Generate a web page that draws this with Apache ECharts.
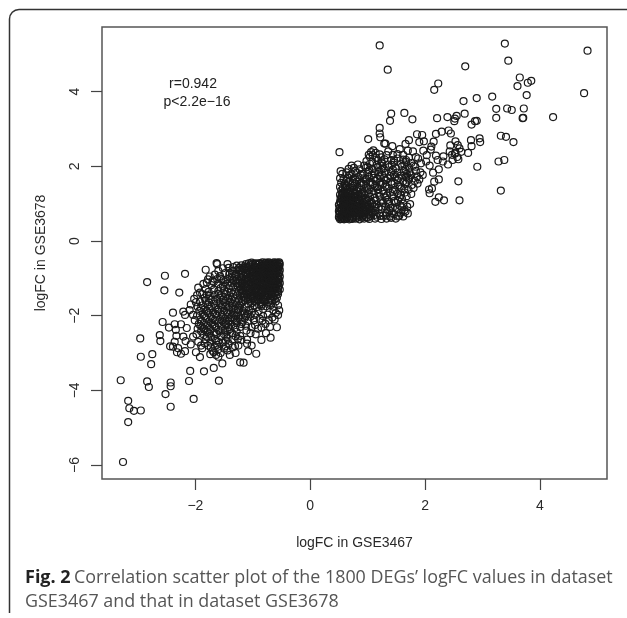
<!DOCTYPE html>
<html><head><meta charset="utf-8">
<style>html,body{margin:0;padding:0;background:#fff}#c{width:627px;height:618px}</style>
<script src="https://cdn.jsdelivr.net/npm/echarts@6/dist/echarts.min.js"></script>
</head><body><div id="c"></div>
<script>
const xTicks=[-2,0,2,4];
const yTicks=[-6,-4,-2,0,2,4];
const xTitle='logFC in GSE3467';
const yTitle='logFC in GSE3678';
const upSparse=[[1.21,5.24],[3.39,5.29],[4.83,5.10],[3.45,4.83],[1.35,4.59],[2.70,4.68],[3.65,4.38],[3.79,4.24],[3.85,4.29],[3.61,4.15],[2.23,4.22],[2.16,4.05],[4.77,3.96],[3.77,3.91],[3.17,3.87],[2.90,3.83],[2.67,3.75],[3.24,3.54],[3.43,3.55],[3.51,3.51],[3.72,3.55],[1.41,3.41],[1.64,3.43],[1.39,3.22],[1.78,3.26],[2.21,3.29],[2.39,3.32],[2.55,3.35],[2.52,3.28],[2.51,3.21],[2.69,3.41],[2.90,3.22],[2.87,3.21],[2.81,3.12],[3.24,3.30],[3.71,3.30],[3.70,3.29],[4.23,3.32],[1.21,3.03],[1.21,2.88],[1.22,2.78],[1.01,2.73],[1.86,2.86],[1.95,2.84],[2.19,2.87],[2.29,2.93],[2.41,2.96],[2.45,2.88],[1.29,2.61],[1.31,2.61],[1.72,2.70],[1.66,2.60],[1.90,2.65],[1.98,2.67],[2.15,2.66],[2.11,2.53],[2.10,2.45],[2.80,2.70],[2.95,2.75],[2.96,2.65],[2.81,2.54],[2.53,2.67],[2.57,2.57],[2.60,2.48],[2.44,2.56],[3.32,2.82],[3.41,2.79],[3.54,2.65],[0.51,2.38],[1.10,2.43],[1.06,2.38],[1.43,2.54],[1.56,2.46],[1.70,2.42],[1.79,2.40],[1.97,2.42],[2.75,2.36],[2.63,2.39],[2.53,2.37],[2.47,2.31],[2.32,2.27],[2.19,2.29],[2.22,2.17],[2.31,2.13],[2.40,2.05],[2.48,2.17],[2.58,2.19],[3.28,2.13],[3.38,2.17],[2.91,1.99],[2.58,1.60],[3.32,1.35],[2.60,1.09],[2.33,1.09],[2.18,1.05],[2.24,1.17],[2.08,1.28],[2.07,1.38],[2.12,1.41],[2.16,1.59],[2.24,1.65],[2.14,1.83],[2.24,1.92],[2.08,2.02],[2.02,2.13],[2.03,2.30],[1.88,2.21],[1.93,2.08],[1.83,1.99],[2.52,2.34],[2.56,2.25],[2.43,2.40]];
const upDense=[
[.52,.58],[.55,.59],[.59,.58],[.63,.6],[.68,.58],[.73,.59],[.79,.6],[.86,.58],[.94,.6],[1.03,.59],[1.13,.6],[1.24,.59],[1.33,.6],[1.41,.62],[1.49,.6],
[.5,.64],[.54,.66],[.57,.63],[.61,.67],[.65,.64],[.7,.66],[.75,.63],[.8,.67],[.85,.65],[.91,.66],[.98,.64],[1.06,.67],[1.16,.65],[1.27,.68],[1.39,.66],[1.55,.68],[1.62,.66],
[.51,.72],[.55,.74],[.59,.71],[.63,.75],[.67,.72],[.72,.74],[.77,.71],[.82,.75],[.88,.72],[.94,.74],[1.01,.71],[1.09,.76],[1.2,.73],[1.33,.75],[1.46,.72],[1.58,.76],[1.7,.74],
[.5,.8],[.54,.82],[.58,.79],[.62,.83],[.66,.8],[.71,.82],[.76,.79],[.81,.83],[.86,.8],[.92,.83],[.98,.8],[1.05,.84],[1.13,.81],[1.24,.85],[1.38,.82],[1.51,.86],[1.64,.83],
[.51,.88],[.55,.9],[.6,.87],[.64,.91],[.69,.88],[.74,.9],[.79,.87],[.84,.91],[.9,.88],[.96,.91],[1.03,.88],[1.11,.92],[1.19,.89],[1.31,.93],[1.44,.9],[1.57,.94],[1.69,.92],
[.5,.97],[.53,.99],[.57,.96],[.62,1],[.67,.97],[.72,.99],[.77,.96],[.83,1],[.88,.97],[.94,1],[1.01,.97],[1.08,1.01],[1.16,.98],[1.27,1.02],[1.37,.99],[1.49,1.03],[1.62,1],[1.74,.99],
[.52,1.05],[.56,1.08],[.6,1.04],[.65,1.08],[.7,1.05],[.75,1.07],[.8,1.04],[.86,1.08],[.92,1.05],[.99,1.08],[1.06,1.05],[1.14,1.09],[1.23,1.06],[1.34,1.1],[1.46,1.07],[1.6,1.12],
[.53,1.14],[.58,1.17],[.63,1.13],[.68,1.17],[.73,1.14],[.78,1.16],[.84,1.13],[.9,1.17],[.97,1.14],[1.04,1.18],[1.12,1.15],[1.21,1.19],[1.31,1.16],[1.43,1.2],[1.56,1.17],[1.68,1.2],
[.52,1.24],[.56,1.27],[.61,1.23],[.66,1.27],[.71,1.24],[.77,1.26],[.83,1.23],[.89,1.27],[.95,1.24],[1.02,1.28],[1.1,1.25],[1.19,1.29],[1.28,1.26],[1.39,1.3],[1.52,1.27],[1.65,1.3],[1.76,1.26],
[.54,1.35],[.59,1.33],[.64,1.37],[.7,1.34],[.76,1.38],[.82,1.34],[.88,1.37],[.95,1.34],[1.02,1.38],[1.1,1.35],[1.18,1.39],[1.27,1.36],[1.36,1.4],[1.47,1.37],[1.59,1.41],[1.71,1.38],[1.8,1.42],
[.52,1.45],[.57,1.43],[.63,1.47],[.69,1.44],[.75,1.48],[.82,1.45],[.89,1.49],[.97,1.46],[1.05,1.5],[1.13,1.47],[1.22,1.51],[1.31,1.48],[1.42,1.52],[1.53,1.49],[1.66,1.53],[1.77,1.5],[1.87,1.54],
[.54,1.56],[.6,1.54],[.67,1.58],[.74,1.55],[.81,1.59],[.89,1.56],[.97,1.6],[1.05,1.57],[1.14,1.61],[1.22,1.58],[1.32,1.62],[1.41,1.59],[1.52,1.63],[1.62,1.6],[1.72,1.64],[1.82,1.61],[1.9,1.65],
[.52,1.68],[.58,1.66],[.66,1.7],[.75,1.67],[.84,1.71],[.93,1.68],[1.02,1.72],[1.11,1.69],[1.21,1.73],[1.29,1.7],[1.39,1.74],[1.48,1.71],[1.58,1.75],[1.67,1.72],[1.76,1.76],[1.86,1.73],[1.96,1.77],
[.56,1.8],[.63,1.84],[.72,1.79],[.81,1.83],[.91,1.8],[1.01,1.85],[1.11,1.81],[1.2,1.85],[1.3,1.82],[1.41,1.86],[1.52,1.83],[1.63,1.87],[1.73,1.84],[1.84,1.88],[1.92,1.84],
[.53,1.87],[.67,1.93],[.76,1.96],[.86,1.92],[.97,1.97],[1.08,1.93],[1.18,1.98],[1.28,1.94],[1.37,1.98],[1.49,1.95],[1.6,2],[1.72,1.96],[1.8,2.02],
[.72,2.02],[.83,2.05],[.94,2.02],[1.04,2.07],[1.16,2.04],[1.25,2.09],[1.36,2.05],[1.46,2.1],[1.58,2.07],[1.67,2.12],[1.76,2.09],
[.98,2.14],[1.08,2.12],[1.18,2.16],[1.24,2.24],[1.29,2.19],[1.41,2.17],[1.52,2.21],[1.62,2.18],[1.72,2.23],[1.84,2.25],
[1.04,2.25],[1.09,2.3],[1.15,2.23],[1.21,2.32],[1.33,2.3],[1.44,2.31],[1.52,2.33],[1.62,2.31],[1.02,2.31],[1.14,2.36],[1.36,2.4]
];
const upExtra=[
[.53,.61],[.56,.69],[.6,.6],[.62,.7],[.66,.76],[.7,.61],[.74,.68],[.78,.77],[.82,.62],[.84,.7],[.87,.77],[.9,.62],[.93,.69],[.96,.78],[1,.62],[1.03,.74],[1.06,.8],[.52,.77],[.55,.85],[.58,.93],[.6,.82],[.64,.86],[.67,.94],[.71,.85],[.73,.94],[.77,.84],[.81,.92],[.84,.85],[.88,.94],[.91,.86],[.95,.95],[.98,.86],[1.01,.93],[1.05,.92],[.54,1.02],[.59,1.01],[.63,1.03],[.68,1.02],[.73,1.03],[.78,1.02],[.81,1.1],[.85,1.03],[.9,1.12],[.95,1.1],[.55,1.12],[.6,1.1],[.65,1.13],[.7,1.11],[.75,1.12],[.55,1.2],[.6,1.2],[.65,1.21],[.7,1.19],[.75,1.2],[.8,1.2],[.86,1.21],[.57,1.3],[.62,1.3],[.68,1.31],[.74,1.31],
[.61,1.41],[.73,1.42],[.86,1.42],[1,1.43],[1.16,1.44],[1.33,1.45],[1.56,1.46],[.61,1.5],[.78,1.52],[.93,1.53],[1.09,1.53],[1.27,1.54],[1.47,1.55],[1.68,1.58],[.63,1.62],[.79,1.65],[.97,1.66],[1.17,1.67],[1.35,1.68],[1.54,1.69],[1.72,1.7],[.68,1.76],[.88,1.77],[1.07,1.77],[1.25,1.78],[1.46,1.78],[1.68,1.8],[.78,1.88],[1.03,1.9],[1.24,1.91],[1.44,1.91],[1.66,1.92],[1,1.99],[1.22,2.02],[1.42,2.04],[1.64,2.05],[1.24,2.13],[1.46,2.16],[1.67,2.17],
[1.12,.7],[1.22,.67],[1.32,.68],[1.42,.76],[1.53,.66],[1.66,.79],[1.25,.92],[1.4,.88],[1.6,.9],[1.36,1.05],[1.53,1.08],[1.34,1.22],[1.58,1.23],[1.44,1.32],[1.64,1.4]
];
const downSparse=[[-3.26,-5.92],[-3.17,-4.85],[-3.17,-4.28],[-3.15,-4.48],[-3.07,-4.55],[-2.95,-4.54],[-3.30,-3.73],[-2.84,-3.76],[-2.81,-3.91],[-2.43,-3.79],[-2.43,-3.89],[-2.52,-4.10],[-2.43,-4.44],[-2.03,-4.23],[-2.11,-3.75],[-2.09,-3.48],[-1.85,-3.49],[-1.68,-3.40],[-1.59,-3.74],[-1.53,-3.28],[-1.22,-3.25],[-1.16,-3.26],[-0.94,-3.02],[-1.08,-2.95],[-1.02,-2.80],[-1.10,-2.64],[-0.69,-2.59],[-0.77,-2.47],[-0.58,-2.31],[-0.91,-2.35],[-1.02,-2.31],[-1.11,-2.40],[-1.04,-2.47],[-1.22,-2.54],[-2.95,-3.10],[-2.75,-3.03],[-2.77,-3.30],[-2.96,-2.61],[-2.62,-2.52],[-2.61,-2.68],[-2.57,-2.17],[-2.46,-2.32],[-2.39,-1.92],[-2.36,-2.23],[-2.25,-2.23],[-2.15,-2.33],[-2.34,-2.38],[-2.33,-2.54],[-2.36,-2.70],[-2.21,-2.56],[-2.17,-2.68],[-2.08,-2.77],[-2.44,-2.82],[-2.39,-2.83],[-2.30,-2.87],[-2.32,-2.98],[-2.25,-3.02],[-2.18,-2.95],[-2.04,-2.56],[-1.99,-2.98],[-1.92,-3.11],[-1.88,-2.87],[-1.74,-3.03],[-1.73,-2.85],[-1.64,-2.67],[-1.55,-2.56],[-1.44,-2.61],[-1.31,-2.81],[-1.60,-3.10],[-1.64,-3.05],[-2.84,-1.10],[-2.53,-0.93],[-2.18,-0.88],[-2.54,-1.32],[-2.28,-1.38],[-1.82,-0.77],[-1.63,-0.59],[-1.62,-0.62],[-1.44,-0.62],[-1.80,-1.11],[-1.82,-1.29],[-1.92,-1.38],[-1.99,-1.64],[-2.04,-1.98],[-2.21,-1.89],[-2.10,-1.85],[-2.18,-1.98],[-2.01,-2.12],[-1.70,-1.07],[-1.57,-0.94],[-1.52,-0.73],[-1.34,-0.80]];
const downMid=[
[-1.48,-.86],[-1.41,-.9],[-1.62,-1.02],[-1.51,-1.05],[-1.44,-1.02],[-1.36,-.98],[-1.72,-1.18],[-1.6,-1.15],[-1.52,-1.2],[-1.44,-1.14],[-1.37,-1.12],[-1.3,-1.06],
[-1.88,-1.42],[-1.77,-1.36],[-1.68,-1.3],[-1.6,-1.34],[-1.5,-1.32],[-1.42,-1.27],[-1.34,-1.24],[-1.84,-1.52],[-1.75,-1.47],[-1.66,-1.44],[-1.56,-1.46],[-1.47,-1.42],[-1.38,-1.38],[-1.3,-1.36],
[-1.92,-1.62],[-1.82,-1.6],[-1.72,-1.57],[-1.62,-1.55],[-1.52,-1.57],[-1.43,-1.53],[-1.34,-1.5],[-1.27,-1.46],
[-1.96,-1.76],[-1.87,-1.72],[-1.78,-1.7],[-1.68,-1.68],[-1.58,-1.67],[-1.49,-1.65],[-1.4,-1.63],[-1.31,-1.6],[-1.24,-1.57],
[-1.93,-1.87],[-1.84,-1.84],[-1.75,-1.81],[-1.65,-1.79],[-1.55,-1.77],[-1.46,-1.75],[-1.36,-1.73],[-1.28,-1.7],[-1.2,-1.66],
[-1.97,-2],[-1.87,-1.96],[-1.78,-1.93],[-1.69,-1.91],[-1.6,-1.89],[-1.5,-1.87],[-1.41,-1.85],[-1.32,-1.82],[-1.23,-1.79],[-1.14,-1.76],
[-1.91,-2.1],[-1.82,-2.06],[-1.73,-2.03],[-1.63,-2],[-1.54,-1.98],[-1.44,-1.96],[-1.35,-1.94],[-1.26,-1.91],[-1.17,-1.88],[-1.07,-1.85],
[-1.94,-2.22],[-1.85,-2.19],[-1.76,-2.15],[-1.66,-2.12],[-1.57,-2.09],[-1.48,-2.07],[-1.38,-2.04],[-1.29,-2.01],[-1.2,-1.98],[-1.1,-1.95],[-1.02,-1.92],
[-1.88,-2.31],[-1.79,-2.27],[-1.7,-2.24],[-1.6,-2.21],[-1.51,-2.18],[-1.42,-2.15],[-1.32,-2.12],[-1.23,-2.09],[-1.14,-2.06],[-1.04,-2.03],[-.96,-1.98],
[-1.9,-2.42],[-1.82,-2.4],[-1.74,-2.36],[-1.64,-2.33],[-1.55,-2.29],[-1.46,-2.26],[-1.37,-2.24],[-1.28,-2.2],[-1.18,-2.17],[-1.08,-2.14],[-.98,-2.12],[-.88,-2.08],
[-1.85,-2.52],[-1.76,-2.48],[-1.67,-2.45],[-1.58,-2.42],[-1.49,-2.39],[-1.4,-2.36],[-1.31,-2.33],[-1.22,-2.3],[-1.82,-2.63],[-1.72,-2.58],[-1.5,-2.5],[-1.36,-2.47],[-1.28,-2.43],
[-1.84,-2.74],[-1.74,-2.72],[-1.62,-2.78],[-1.52,-2.72],[-1.42,-2.75],[-1.35,-2.64],[-1.26,-2.62],[-1.7,-2.94],[-1.6,-2.9],[-1.5,-2.88],[-1.44,-2.93],[-1.56,-3],
[-.82,-2.01],[-.74,-1.97],[-.66,-2.05],[-.6,-1.93],[-.9,-1.88],[-.83,-2.13],[-.72,-2.12],[-.62,-2.1],[-.56,-1.98],[-.64,-1.85],[-.54,-1.86],[-.96,-2.25],[-.78,-2.22],
[-1.75,-.95],[-1.66,-.9],[-1.6,-.8],[-1.42,-.72],[-1.78,-1.03],[-1.86,-1.15],[-1.68,-1.1],[-1.95,-1.25],[-1.97,-1.45],[-2.02,-1.55],[-2.08,-1.7],[-1.2,-2.22],[-1.12,-2.27],[-1.3,-2.55],[-1.2,-2.65],[-1.1,-2.75],[-1.35,-2.85],[-1.25,-2.8],[-1.4,-3.05],[-1.3,-3],[-.85,-2.32],[-.7,-2.3],[-.95,-2.5],[-.85,-2.65],[-1.96,-2.35],[-1.98,-2.5],[-1.95,-2.7],[-1.9,-2.8]
];
const downDense=[
[-.54,-.57],[-.58,-.58],[-.63,-.57],[-.67,-.59],[-.72,-.57],[-.77,-.58],[-.83,-.57],[-.88,-.59],[-.95,-.6],[-1.02,-.58],[-1.12,-.62],[-1.2,-.65],
[-.53,-.62],[-.57,-.64],[-.61,-.62],[-.66,-.65],[-.7,-.63],[-.75,-.65],[-.8,-.63],[-.85,-.66],[-.91,-.64],[-.97,-.67],[-1.05,-.65],[-1.14,-.68],[-1.24,-.72],
[-.54,-.7],[-.59,-.72],[-.64,-.7],[-.68,-.73],[-.73,-.71],[-.78,-.73],[-.83,-.71],[-.89,-.74],[-.94,-.72],[-1,-.75],[-1.07,-.73],[-1.15,-.76],[-1.22,-.78],
[-.53,-.78],[-.57,-.8],[-.62,-.78],[-.66,-.81],[-.71,-.79],[-.76,-.82],[-.81,-.79],[-.86,-.82],[-.92,-.8],[-.98,-.83],[-1.05,-.81],[-1.12,-.84],[-1.2,-.85],[-1.29,-.88],
[-.54,-.87],[-.59,-.89],[-.63,-.86],[-.68,-.9],[-.73,-.87],[-.78,-.9],[-.84,-.87],[-.89,-.91],[-.95,-.88],[-1.01,-.92],[-1.08,-.89],[-1.16,-.93],[-1.24,-.95],
[-.53,-.95],[-.57,-.98],[-.62,-.95],[-.66,-.99],[-.71,-.96],[-.76,-.99],[-.81,-.96],[-.87,-1],[-.92,-.97],[-.98,-1.01],[-1.05,-.98],[-1.12,-1.02],[-1.2,-1.03],[-1.28,-1.02],
[-.54,-1.04],[-.59,-1.07],[-.64,-1.04],[-.69,-1.08],[-.74,-1.05],[-.79,-1.08],[-.85,-1.05],[-.9,-1.09],[-.96,-1.06],[-1.03,-1.1],[-1.1,-1.07],[-1.18,-1.11],[-1.25,-1.12],
[-.53,-1.13],[-.57,-1.16],[-.62,-1.13],[-.67,-1.17],[-.72,-1.14],[-.77,-1.18],[-.83,-1.14],[-.88,-1.18],[-.94,-1.15],[-1,-1.19],[-1.07,-1.16],[-1.15,-1.2],[-1.22,-1.21],
[-.55,-1.22],[-.6,-1.25],[-.65,-1.22],[-.7,-1.26],[-.75,-1.23],[-.8,-1.27],[-.86,-1.23],[-.92,-1.27],[-.98,-1.24],[-1.05,-1.28],[-1.12,-1.26],[-1.2,-1.3],
[-.53,-1.3],[-.58,-1.34],[-.63,-1.31],[-.68,-1.35],[-.73,-1.32],[-.79,-1.36],[-.85,-1.32],[-.91,-1.37],[-.97,-1.33],[-1.04,-1.37],[-1.11,-1.34],[-1.18,-1.39],
[-.56,-1.42],[-.62,-1.4],[-.67,-1.44],[-.72,-1.41],[-.78,-1.45],[-.84,-1.41],[-.9,-1.46],[-.96,-1.43],[-1.03,-1.47],[-1.1,-1.44],[-1.16,-1.49],
[-.58,-1.52],[-.64,-1.5],[-.7,-1.54],[-.76,-1.5],[-.82,-1.55],[-.88,-1.51],[-.94,-1.56],[-1,-1.53],[-1.08,-1.56],[-1.14,-1.59],
[-.6,-1.62],[-.66,-1.6],[-.73,-1.64],[-.8,-1.61],[-.87,-1.65],[-.94,-1.62],[-1.01,-1.66],[-1.08,-1.68],[-.56,-1.72],[-.69,-1.72],[-.77,-1.75],[-.85,-1.74],[-.93,-1.77],[-1,-1.8]
];
const downExtra=[
[-.55,-.6],[-.6,-.6],[-.65,-.61],[-.69,-.6],[-.74,-.61],[-.79,-.6],[-.84,-.61],[-.89,-.62],[-.94,-.61],[-1,-.62],[-1.07,-.6],[-.55,-.67],[-.6,-.68],[-.65,-.67],[-.7,-.68],[-.75,-.69],[-.8,-.68],[-.86,-.69],[-.92,-.69],[-.98,-.7],[-1.03,-.7],[-1.1,-.7],[-1.18,-.72],[-.56,-.75],[-.61,-.75],[-.66,-.76],[-.71,-.75],[-.76,-.76],[-.81,-.75],[-.87,-.77],[-.93,-.76],[-.99,-.78],[-1.04,-.77],[-1.1,-.78],[-1.18,-.8],[-.55,-.83],[-.6,-.84],[-.65,-.84],[-.7,-.83],[-.75,-.85],[-.81,-.84],[-.87,-.85],[-.93,-.85],[-.99,-.87],[-1.05,-.86],[-1.12,-.88],[-1.2,-.9],[-.56,-.92],[-.61,-.93],[-.66,-.92],[-.71,-.93],[-.76,-.94],[-.81,-.92],[-.86,-.94],[-.92,-.93],[-.99,-.95],[-1.05,-.94],[-1.12,-.96],[-1.2,-.97],[-.56,-1.01],[-.61,-1],[-.66,-1.02],[-.72,-1.01],[-.77,-1.03],[-.83,-1.02],[-.88,-1.03],[-.94,-1.03],[-1,-1.04],[-1.07,-1.03],[-1.14,-1.06],[-1.22,-1.08],[-.56,-1.1],[-.61,-1.11],[-.67,-1.1],[-.72,-1.11],[-.77,-1.12],[-.82,-1.11],[-.88,-1.13],[-.94,-1.11],[-.99,-1.13],[-1.05,-1.13],[-1.12,-1.14],[-1.19,-1.16],[-.55,-1.18],[-.6,-1.19],[-.65,-1.18],[-.7,-1.2],[-.75,-1.19],[-.81,-1.2],[-.86,-1.19],[-.91,-1.21],[-.97,-1.2],[-1.03,-1.22],[-1.1,-1.22],[-1.17,-1.25],[-.56,-1.27],[-.62,-1.28],[-.67,-1.28],[-.73,-1.27],[-.78,-1.3],[-.83,-1.29],[-.89,-1.3],[-.95,-1.29],[-1.01,-1.31],[-1.08,-1.31],[-1.16,-1.33],[-.56,-1.36],[-.61,-1.36],[-.66,-1.38],[-.71,-1.37],[-.76,-1.4],[-.82,-1.38],[-.88,-1.41],[-.94,-1.39],[-1,-1.41],[-1.07,-1.4],[-1.14,-1.43],[-.6,-1.46],[-.65,-1.47],[-.74,-1.47],[-.8,-1.49],[-.86,-1.47],[-.92,-1.5],[-.99,-1.48],[-1.05,-1.51],[-1.12,-1.53],[-.62,-1.56],[-.68,-1.57],[-.78,-1.57],[-.85,-1.59],[-.91,-1.58],[-.98,-1.6],[-1.04,-1.6],[-.7,-1.66],[-.84,-1.69],[-.97,-1.72],[-.64,-1.76],[-.82,-1.82],
[-1.28,-.66],[-1.34,-.7],[-1.27,-.77],[-1.36,-.81],[-1.31,-.92],[-1.4,-.85],[-1.34,-1.05],[-1.28,-1.13],[-1.48,-1.1],[-1.55,-1.02],[-1.26,-1.23],[-1.4,-1.2],[-1.56,-1.26],[-1.24,-1.33],[-1.44,-1.36],[-1.6,-1.41],[-1.8,-1.44],[-1.22,-1.42],[-1.4,-1.48],[-1.58,-1.52],[-1.77,-1.54],[-1.2,-1.52],[-1.37,-1.57],[-1.56,-1.62],[-1.76,-1.64],[-1.17,-1.62],[-1.35,-1.67],[-1.53,-1.72],[-1.72,-1.75],[-1.9,-1.8],[-1.22,-1.73],[-1.41,-1.78],[-1.6,-1.83],[-1.8,-1.88],[-1.26,-1.85],[-1.45,-1.91],[-1.65,-1.95],[-1.84,-2.01],[-1.14,-1.94],[-1.32,-1.98],[-1.52,-2.03],[-1.7,-2.09],[-1.89,-2.15],[-1.12,-2.01],[-1.34,-2.08],[-1.53,-2.13],[-1.72,-2.19],[-1.91,-2.27],[-1.28,-2.15],[-1.47,-2.21],[-1.66,-2.28],[-1.85,-2.35],[-1.42,-2.3],[-1.6,-2.37],[-1.79,-2.43],[-1.44,-2.41],[-1.63,-2.49],[-1.8,-2.56],[-1.46,-2.53],[-1.66,-2.62],[-1.6,-2.7],[-1.47,-2.67],[-1.66,-2.82],[-1.47,-2.82],[-1.78,-2.8],[-1.68,-2.98]
];
const allPoints=[...upSparse,...upDense,...upExtra,...downSparse,...downMid,...downDense,...downExtra];

const chart=echarts.init(document.getElementById('c'),null,{renderer:'canvas'});
const fmt=v=>String(v).replace('-','\u2212');
const axisText={color:'#2a2a2a',fontFamily:'Liberation Sans',fontSize:14};
const frame={stroke:'#333',lineWidth:1.5,fill:'none'};
chart.setOption({
 animation:false,
 backgroundColor:'#fff',
 grid:{left:102,top:27,width:505,height:452,show:true,borderColor:'#555',borderWidth:1.5,backgroundColor:'transparent'},
 xAxis:{type:'value',min:-3.626,max:5.169,
  name:xTitle,nameLocation:'middle',nameGap:57,nameTextStyle:{...axisText},
  axisLine:{show:false,onZero:false},splitLine:{show:false},
  axisTick:{show:true,length:11,customValues:xTicks,lineStyle:{color:'#444',width:1.2}},
  axisLabel:{show:true,customValues:xTicks,formatter:fmt,margin:20,...axisText}},
 yAxis:{type:'value',min:-6.375,max:5.733,
  name:yTitle,nameLocation:'middle',nameGap:54,nameRotate:90,nameTextStyle:{...axisText},
  axisLine:{show:false,onZero:false},splitLine:{show:false},
  axisTick:{show:true,length:11,customValues:yTicks,lineStyle:{color:'#444',width:1.2}},
  axisLabel:{show:true,customValues:yTicks,formatter:fmt,rotate:90,margin:20,...axisText}},
 series:[{type:'scatter',data:allPoints,symbol:'circle',symbolSize:7,silent:true,
  itemStyle:{color:'transparent',borderColor:'#1a1a1a',borderWidth:1.2,opacity:1}}],
 graphic:[
  {type:'polyline',silent:true,shape:{points:[[9.5,613],[9.5,19]]},style:frame},
  {type:'polyline',silent:true,shape:{points:[[19,9.5],[627,9.5]]},style:frame},
  {type:'arc',silent:true,shape:{cx:19,cy:19,r:9.5,startAngle:Math.PI,endAngle:1.5*Math.PI,clockwise:true},style:frame},
  {type:'text',silent:true,x:193,y:84,style:{text:'r=0.942',fill:'#222',font:'14px "Liberation Sans"',align:'center',verticalAlign:'middle'}},
  {type:'text',silent:true,x:197,y:102,style:{text:'p<2.2e\u221216',fill:'#222',font:'14px "Liberation Sans"',align:'center',verticalAlign:'middle'}},
  {type:'text',silent:true,x:25,y:569,style:{rich:{b:{fontFamily:'Open Sans',fontWeight:'bold',fontSize:18,fill:'#222'},n:{fontFamily:'Open Sans',fontSize:17.9,fill:'#555'}},text:'{b|Fig. 2} {n|Correlation scatter plot of the 1800 DEGs\u2019 logFC values in dataset}',verticalAlign:'top'}},
  {type:'text',silent:true,x:25,y:593,style:{text:'GSE3467 and that in dataset GSE3678',fill:'#555',font:'17.9px "Open Sans"',verticalAlign:'top'}}
 ]
});
</script></body></html>
